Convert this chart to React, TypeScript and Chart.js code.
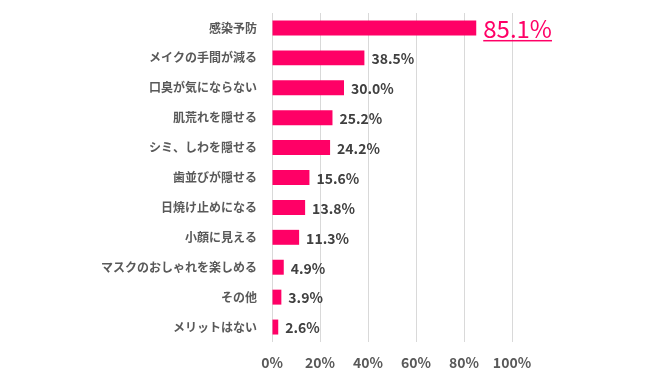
import React, { useEffect, useRef } from "react";
import { Chart, registerables } from "chart.js";

Chart.register(...registerables);

const categories = [
  "感染予防",
  "メイクの手間が減る",
  "口臭が気にならない",
  "肌荒れを隠せる",
  "シミ、しわを隠せる",
  "歯並びが隠せる",
  "日焼け止めになる",
  "小顔に見える",
  "マスクのおしゃれを楽しめる",
  "その他",
  "メリットはない",
];
const values = [85.1, 38.5, 30.0, 25.2, 24.2, 15.6, 13.8, 11.3, 4.9, 3.9, 2.6];
const xTicks = [0, 20, 40, 60, 80, 100];

const FONT = "'Noto Sans CJK JP', 'Noto Sans', sans-serif";
const PINK = "#ff0066";

const labelPlugin = {
  id: "valueLabels",
  afterDatasetsDraw(chart: any) {
    const ctx = chart.ctx;
    const meta = chart.getDatasetMeta(0);
    meta.data.forEach((bar: any, i: number) => {
      const text = values[i].toFixed(1) + "%";
      const x = bar.x + 7;
      const y = bar.y;
      ctx.save();
      ctx.textBaseline = "middle";
      ctx.textAlign = "left";
      if (i === 0) {
        ctx.font = `400 24px ${FONT}`;
        ctx.fillStyle = PINK;
        ctx.fillText(text, x, y + 1);
        const w = ctx.measureText(text).width;
        ctx.fillRect(x, y + 12, w, 1.5);
      } else {
        ctx.font = `bold 14px ${FONT}`;
        ctx.fillStyle = "#404040";
        ctx.fillText(text, x, y + 1);
      }
      ctx.restore();
    });
  },
};

export default function App() {
  const ref = useRef<HTMLCanvasElement | null>(null);
  useEffect(() => {
    if (!ref.current) return;
    const chart = new Chart(ref.current, {
      type: "bar",
      data: {
        labels: categories,
        datasets: [
          {
            data: values,
            backgroundColor: PINK,
            barPercentage: 0.5,
            categoryPercentage: 1,
          },
        ],
      },
      options: {
        indexAxis: "y",
        animation: false,
        responsive: false,
        maintainAspectRatio: false,
        layout: { padding: { top: 13, right: 138, bottom: 0, left: 0 } },
        plugins: { legend: { display: false }, tooltip: { enabled: false } },
        scales: {
          x: {
            min: 0,
            max: 100,
            afterBuildTicks: (scale: any) => {
              scale.ticks = xTicks.map((v) => ({ value: v }));
            },
            afterFit: (scale: any) => {
              scale.height = 47;
              scale.paddingLeft = 0;
              scale.paddingRight = 0;
            },
            grid: { color: "#d9d9d9", drawTicks: false, lineWidth: 1 },
            border: { display: false },
            ticks: {
              padding: 12,
              color: "#595959",
              font: { family: FONT, size: 14, weight: "bold" },
              callback: (v: any) => v + "%",
            },
          },
          y: {
            afterFit: (scale: any) => {
              scale.width = 272;
              scale.paddingTop = 0;
              scale.paddingBottom = 0;
            },
            grid: { display: false, drawTicks: false },
            border: { display: false },
            ticks: {
              padding: 15,
              color: "#595959",
              font: { family: FONT, size: 12, weight: "bold" },
            },
          },
        },
      },
      plugins: [labelPlugin],
    });
    return () => chart.destroy();
  }, []);
  return (
    <div style={{ position: "fixed", left: 0, top: 0, width: 650, height: 389, background: "#fff" }}>
      <canvas ref={ref} width={650} height={389} />
    </div>
  );
}
